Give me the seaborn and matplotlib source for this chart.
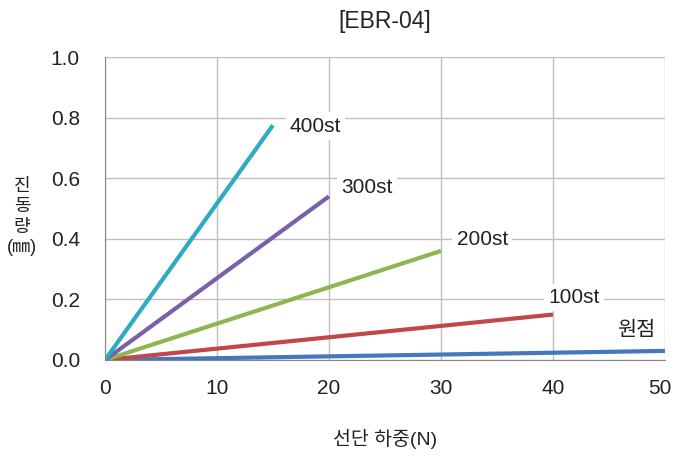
import seaborn as sns
import pandas as pd
from matplotlib import pyplot as plt
from matplotlib.transforms import ScaledTranslation

# series: shear load (N) vs vibration (mm), straight lines from origin
series_names = ['원점', '100st', '200st', '300st', '400st']
load_end = [50, 40, 30, 20, 15]
vib_end = [0.03, 0.15, 0.36, 0.54, 0.775]
colors = ['#4477BD', '#C0474A', '#8DB552', '#7B5FA8', '#2FAAC4']

# label anchor points (data coords)
label_x = [45.7, 39.6, 31.4, 21.1, 16.5]
label_y = [0.097, 0.207, 0.397, 0.57, 0.772]

rows = []
for name, xe, ye in zip(series_names, load_end, vib_end):
    rows.append({'series': name, 'load': 0, 'vib': 0})
    rows.append({'series': name, 'load': xe, 'vib': ye})
df = pd.DataFrame(rows)

sns.set_style('white')
plt.rcParams['font.family'] = ['Liberation Sans', 'Noto Sans CJK KR', 'DejaVu Sans']

fig = plt.figure(figsize=(6.73, 4.59), dpi=100)
ax = fig.add_axes([0.156, 0.2157, 0.832, 0.66])

ax.grid(True, color='#BFBFBF', linewidth=1)
ax.set_axisbelow(True)

sns.lineplot(data=df, x='load', y='vib', hue='series', hue_order=series_names,
             palette=colors, linewidth=3, legend=False, ax=ax,
             solid_capstyle='butt')

for name, lx, ly in zip(series_names, label_x, label_y):
    ax.text(lx, ly, name, fontsize=15, color='#222222', va='center', ha='left',
            bbox=dict(facecolor='white', edgecolor='none', pad=3))

ax.set_xlim(0, 50)
ax.set_ylim(0, 1.0)
ax.set_xticks([0, 10, 20, 30, 40, 50])
ax.set_yticks([0.0, 0.2, 0.4, 0.6, 0.8, 1.0])
ax.set_yticklabels([f'{v:.1f}' for v in ax.get_yticks()])

for s in ['top', 'right']:
    ax.spines[s].set_visible(False)
for s in ['left', 'bottom']:
    ax.spines[s].set_color('#868686')
ax.tick_params(axis='both', direction='out', length=6, color='#868686',
               labelsize=15, labelcolor='#222222', width=1)
ax.tick_params(axis='y', pad=12)
ax.tick_params(axis='x', pad=8)

# nudge last x tick label so it stays inside the figure
last = ax.get_xticklabels()[-1]
last.set_transform(last.get_transform() + ScaledTranslation(-5 / 100, 0, fig.dpi_scale_trans))

ax.set_title('[EBR-04]', fontsize=16.5, color='#222222', pad=21)
ax.set_xlabel('선단 하중(N)', fontsize=14, color='#222222', labelpad=22)
ax.set_ylabel('')

# stacked vertical y label
fig.text(22 / 673, 1 - 217 / 459, '진\n동\n량\n(㎜)', fontsize=13, color='#222222',
         ha='center', va='center', linespacing=1.28)

fig.savefig('out.png', dpi=100)
